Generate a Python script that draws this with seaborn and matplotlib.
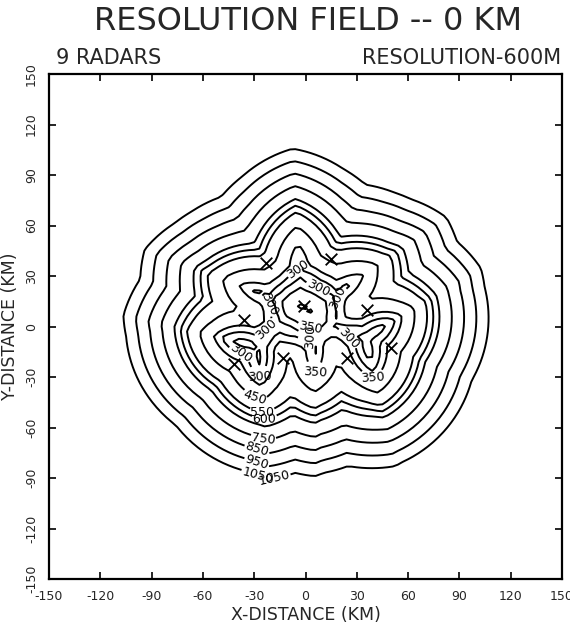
import numpy as np
import pandas as pd
import matplotlib
matplotlib.use("Agg")
import matplotlib.pyplot as plt
import seaborn as sns

# Radar sites (km)
radar_x = [-23, 15, -36, -1, 36, -42, -13, 24, 50]
radar_y = [38, 40, 4, 12, 10, -22, -19, -19, -13]

# Contour levels (m)
levels = [250, 300, 350, 450, 550, 600, 650, 750, 850, 950, 1050]

# Axis ticks (km)
ticks = [-150, -120, -90, -60, -30, 0, 30, 60, 90, 120, 150]

# Beam width (deg), weights of the 2nd/3rd closest ranges, grid step (km)
beam_width_deg = 0.81
w_second, w_third = 0.8, 0.2
grid_step = 3.0

sns.set_theme(style="ticks")
plt.rcParams["font.family"] = ["DejaVu Sans"]

fig = plt.figure(figsize=(5.70, 6.23), dpi=100)
ax = fig.add_axes([0.086, 0.0706, 0.90, 0.8106])

# Resolution: beam spread at an effective range built from the 2nd and 3rd
# closest radars (a dual-Doppler pair backed by a third site)
g = np.arange(-150, 150 + grid_step / 2, grid_step)
X, Y = np.meshgrid(g, g)
rx = np.array(radar_x, dtype=float)
ry = np.array(radar_y, dtype=float)
D = np.hypot(X[..., None] - rx, Y[..., None] - ry)
D.sort(axis=-1)
eff_range = w_second * D[..., 1] + w_third * D[..., 2]
res = eff_range * 1000.0 * np.deg2rad(beam_width_deg)

cs = ax.contour(X, Y, res, levels=levels, colors="black", linewidths=1.4)

label_pts = [(-5, 34), (8, 24), (20, 17), (-21, 13), (-21, -4), (4, 2),
             (6, -7), (24, -8), (-38, -16), (-28, -31), (4, -29), (40, -33),
             (-29, -41), (-25, -50), (-24, -57), (-24, -65),
             (-28, -72), (-28, -79), (-27, -85), (-27, -92)]
ax.clabel(cs, fmt="%d", fontsize=9, inline=True, inline_spacing=1,
          manual=label_pts)

radars = pd.DataFrame({"x": radar_x, "y": radar_y})
sns.scatterplot(data=radars, x="x", y="y", marker="x", s=70, color="black",
                linewidth=1.3, ax=ax, zorder=5, legend=False)

ax.set_xlim(-150, 150)
ax.set_ylim(-150, 150)
ax.set_xticks(ticks)
ax.set_yticks(ticks)
ax.set_xticklabels([str(t) for t in ticks], fontsize=9)
ax.set_yticklabels([str(t) for t in ticks], fontsize=9, rotation=90,
                   va="center")
ax.tick_params(direction="in", length=5, width=1.2, top=True, right=True,
               labeltop=False, labelright=False, color="black", pad=8)
for sp in ax.spines.values():
    sp.set_visible(True)
    sp.set_color("black")
    sp.set_linewidth(1.6)
ax.set_xlabel("X-DISTANCE (KM)", fontsize=12.5, labelpad=2)
ax.set_ylabel("Y-DISTANCE (KM)", fontsize=12.5, labelpad=4)

fig.text(0.54, 0.965, "RESOLUTION FIELD -- 0 KM", fontsize=23,
         ha="center", va="center")
fig.text(0.098, 0.907, "9 RADARS", fontsize=15, ha="left", va="center")
fig.text(0.985, 0.907, "RESOLUTION-600M", fontsize=15, ha="right",
         va="center")

fig.savefig("out.png", dpi=100, facecolor="white")
